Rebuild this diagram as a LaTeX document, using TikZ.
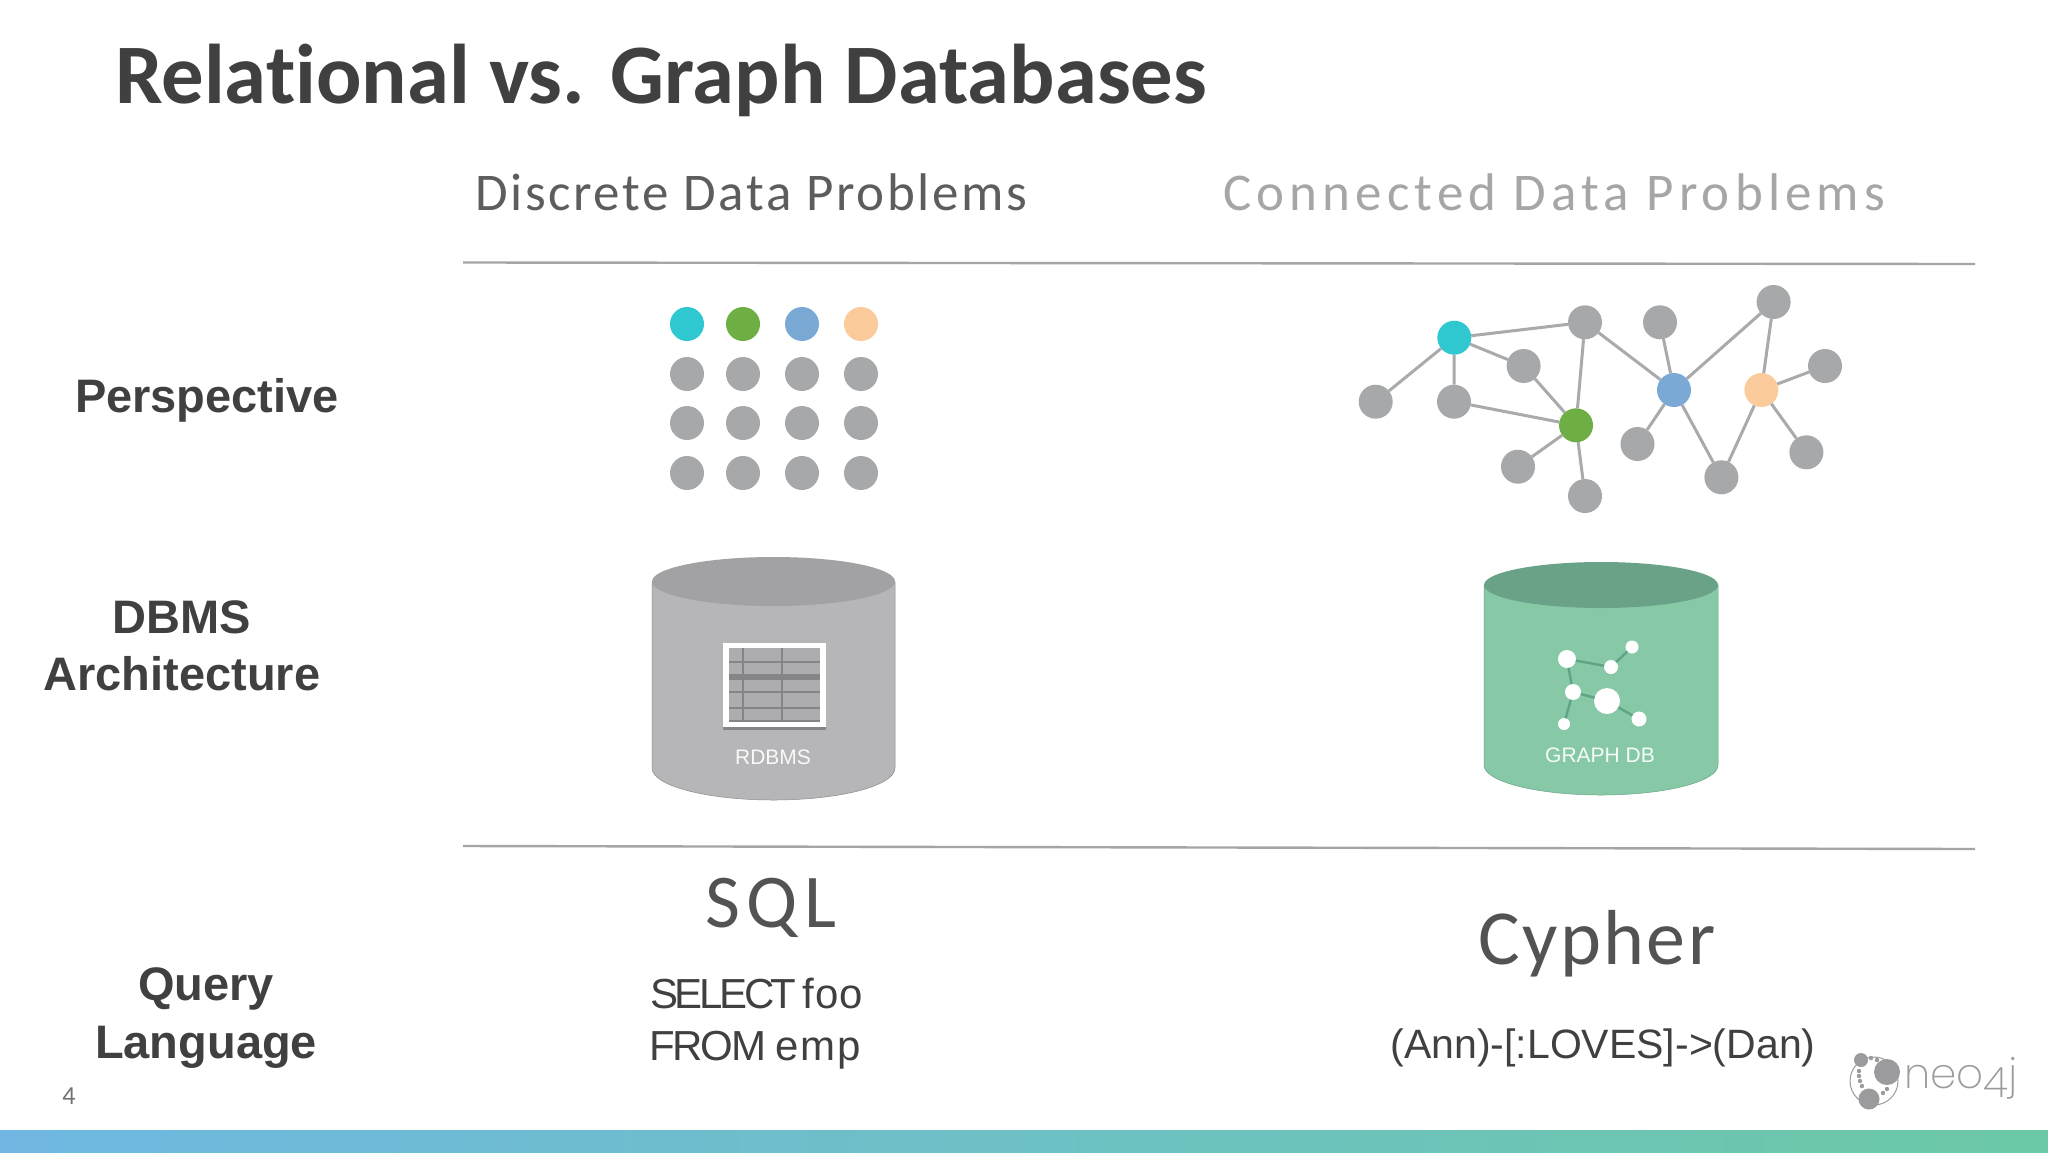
\documentclass[tikz,border=0pt]{standalone}
\usepackage{fontspec}
\usetikzlibrary{shapes.geometric}
\setmainfont[Ligatures=NoCommon]{Carlito}
\newfontfamily\arialf{Liberation Sans}
\newfontfamily\spacedA[LetterSpace=5,Ligatures=NoCommon]{Carlito}
\newfontfamily\spacedB[LetterSpace=9.8,Ligatures=NoCommon]{Carlito}
\newfontfamily\wide[LetterSpace=9]{Carlito}
\newfontfamily\widec[LetterSpace=3]{Carlito}
\newfontfamily\logof[UprightFont=* ExtraLight]{Poppins}
\newfontfamily\tightA[LetterSpace=-8]{Liberation Sans}
\newfontfamily\tightB[LetterSpace=-5]{Liberation Sans}
\newfontfamily\looseA[LetterSpace=3]{Liberation Sans}
\newfontfamily\looseB[LetterSpace=5]{Liberation Sans}
\definecolor{titlec}{HTML}{404040}
\definecolor{ruleg}{HTML}{A3A5A7}
\definecolor{dotg}{HTML}{A6A8AA}
\definecolor{edgeg}{HTML}{A8AAAC}
\definecolor{cyanc}{HTML}{2FC8D0}
\definecolor{greenc}{HTML}{6DAF45}
\definecolor{bluec}{HTML}{7BA9D6}
\definecolor{orangec}{HTML}{FBCB9C}
\definecolor{rbody}{HTML}{B6B6B8}
\definecolor{rtop}{HTML}{A2A2A4}
\definecolor{gbody}{HTML}{87C9A6}
\definecolor{gtop}{HTML}{69A287}
\definecolor{tline}{HTML}{858587}
\definecolor{gline}{HTML}{5FA585}
\definecolor{barl}{HTML}{6FB7E2}
\definecolor{barr}{HTML}{6CC9A6}
\definecolor{logog}{HTML}{9B9B9E}
\tikzset{
  x=1pt,y=-1pt,
  txt/.style={inner sep=0pt,outer sep=0pt,align=center},
  sidelabel/.style={txt,text=titlec,font=\arialf\bfseries\fontsize{47}{57.5}\selectfont},
  gdot/.style={circle,fill=#1,draw=none,minimum size=34pt,inner sep=0pt,outer sep=0pt},
  gdot/.default=dotg,
  edge/.style={draw=edgeg,line width=3pt},
  rulel/.style={draw=ruleg,line width=2.4pt},
  mini/.style={circle,fill=white,draw=none,inner sep=0pt,outer sep=0pt,minimum size=#1},
  miniedge/.style={draw=gline,line width=2.4pt},
  logodot/.style={circle,fill=logog,draw=none,inner sep=0pt,minimum size=#1},
  query/.style={txt,text=titlec,font=\arialf\fontsize{42}{50}\selectfont}
}
\begin{document}
\begin{tikzpicture}
\useasboundingbox (0,0) rectangle (2048,1152);
\fill[white] (0,0) rectangle (2048,1152);
\fill[left color=barl,right color=barr] (0,1130) rectangle (2048,1152);
% title
\node[txt,text=titlec,anchor=west,font=\bfseries\fontsize{84.7}{90}\selectfont] (title) at (115,80) {Relational vs. Graph Databases};
\node[txt,font=\spacedA\fontsize{53}{60}\selectfont,text=titlec!85,anchor=west] (h1) at (475,192) {Discrete Data Problems};
\node[txt,font=\spacedB\fontsize{53}{60}\selectfont,text=black!35,anchor=west] (h2) at (1223,192) {Connected Data Problems};
\coordinate (r1a) at (463,262.5); \coordinate (r1b) at (1975,264);
\coordinate (r2a) at (463,846); \coordinate (r2b) at (1975,849);
\draw[rulel] (r1a) -- (r1b);
\draw[rulel] (r2a) -- (r2b);
% side labels
\node[sidelabel] (persp) at (207,400) {Perspective};
\node[sidelabel] (dbms) at (182,646) {DBMS\\Architecture};
\node[sidelabel] (qlang) at (206,1018) {Query\\Language};
% dots grid
\node[gdot=cyanc] (d11) at (687,324) {};
\node[gdot=greenc] (d12) at (743,324) {};
\node[gdot=bluec] (d13) at (802,324) {};
\node[gdot=orangec] (d14) at (861,324) {};
\foreach \yy/\r in {374/2,423/3,473/4}{
  \node[gdot] (d\r1) at (687,\yy) {};
  \node[gdot] (d\r2) at (743,\yy) {};
  \node[gdot] (d\r3) at (802,\yy) {};
  \node[gdot] (d\r4) at (861,\yy) {};
}
% graph nodes
\node[gdot=cyanc] (cy) at (1454.3,337.7) {};
\node[gdot] (g1) at (1585,322.3) {};
\node[gdot] (g2) at (1660,322.3) {};
\node[gdot] (g3) at (1773.6,302) {};
\node[gdot] (g4) at (1825,366) {};
\node[gdot=orangec] (or) at (1761.4,390) {};
\node[gdot=bluec] (bl) at (1674,390) {};
\node[gdot] (g5) at (1523.6,366) {};
\node[gdot] (g0) at (1375.7,401.7) {};
\node[gdot] (g6) at (1454,401.7) {};
\node[gdot=greenc] (gr) at (1576,425.3) {};
\node[gdot] (g7) at (1518,466.7) {};
\node[gdot] (g8) at (1585,496) {};
\node[gdot] (g9) at (1637.5,444) {};
\node[gdot] (g10) at (1721.4,477.3) {};
\node[gdot] (g11) at (1806.4,452.3) {};
\foreach \a/\b in {cy/g1,cy/g0,cy/g6,cy/g5,g1/gr,g1/bl,g5/gr,g6/gr,gr/g7,gr/g8,g2/bl,bl/g3,bl/g9,bl/g10,g3/or,or/g4,or/g10,or/g11}
  \draw[edge] (\a) -- (\b);
% RDBMS cylinder
\path[fill=rbody,draw=black!45,line width=.5pt] (652,582) -- (652,768) .. controls (652,785.7) and (706.4,800) .. (773.5,800) .. controls (840.6,800) and (895,785.7) .. (895,768) -- (895,582) -- cycle;
\node[ellipse,fill=rtop,draw=none,minimum width=243pt,minimum height=49pt,inner sep=0pt] (rtopn) at (773.5,581.5) {};
\fill[tline] (723,727) rectangle (826,729.5);
\fill[white] (723,643) rectangle (826,727);
\fill[rbody!95!black] (729,648) rectangle (820,722);
\foreach \xx in {743,782} \fill[tline] (\xx-1.4,648) rectangle (\xx+1.4,722);
\foreach \yy/\hh in {662/1.4,677/2.8,692/1.4,708/1.4,721/1.4} \fill[tline] (729,\yy-\hh) rectangle (820,\yy+\hh);
\node[txt,text=white!92!rbody,font=\arialf\fontsize{21}{25}\selectfont] (rl) at (773,757) {RDBMS};
% graph DB cylinder
\path[fill=gbody,draw=gtop,line width=.5pt] (1484,585) -- (1484,765) .. controls (1484,781.6) and (1536.4,795) .. (1601,795) .. controls (1665.6,795) and (1718,781.6) .. (1718,765) -- (1718,585) -- cycle;
\node[ellipse,fill=gtop,draw=none,minimum width=234pt,minimum height=46pt,inner sep=0pt] (gtopn) at (1601,585) {};
\node[mini=18pt] (m1) at (1567,659) {};
\node[mini=14pt] (m2) at (1611,667) {};
\node[mini=13pt] (m3) at (1632,647) {};
\node[mini=16pt] (m4) at (1573,692) {};
\node[mini=26pt] (m5) at (1607,701) {};
\node[mini=15pt] (m6) at (1639,719) {};
\node[mini=12pt] (m7) at (1564,724) {};
\foreach \a/\b in {m1/m2,m2/m3,m1/m4,m4/m5,m5/m6,m4/m7} \draw[miniedge] (\a) -- (\b);
\node[txt,text=white!92!gbody,font=\arialf\fontsize{21}{25}\selectfont] (gl) at (1600,755) {GRAPH DB};
% query
\node[txt,text=titlec!90,font=\wide\fontsize{76}{86}\selectfont] (sql) at (771,908) {SQL};
\node[txt,text=titlec!90,font=\widec\fontsize{78}{88}\selectfont] (cyp) at (1597,944) {Cypher};
\node[query,anchor=base west] (s1) at (650,1008) {{\tightA SELECT} \hspace{-6pt}{\looseA foo}};
\node[query,anchor=base west] (s2) at (649,1060) {{\tightB FROM} \hspace{-3pt}{\looseB emp}};
\node[query,font=\arialf\fontsize{41}{50}\selectfont] (cq) at (1603,1048) {(Ann)-[:LOVES]->(Dan)};
\node[txt,text=black!55,font=\fontsize{26}{30}\selectfont] (pg) at (69,1096) {4};
% logo
\node[circle,draw=logog,line width=1pt,fill=none,minimum size=48pt,inner sep=0pt] (ring) at (1874,1081) {};
\node[logodot=26pt] (lbig) at (1887,1072) {};
\node[logodot=14pt] (ltop) at (1861,1060) {};
\node[logodot=21pt] (lbot) at (1869,1099) {};
\foreach \n/\xx/\yy in {a/1871/1058,b/1877/1060,c/1859/1071,d/1859/1076,e/1860/1081,f/1862/1086,g/1887/1089,h/1883/1093}
  \node[logodot=4.4pt] (ld\n) at (\xx,\yy) {};
\node[txt,text=logog,anchor=base west,font=\logof\fontsize{42}{50}\selectfont] (neo) at (1904,1088) {neo\raisebox{-9pt}{4}j};
\end{tikzpicture}
\end{document}
